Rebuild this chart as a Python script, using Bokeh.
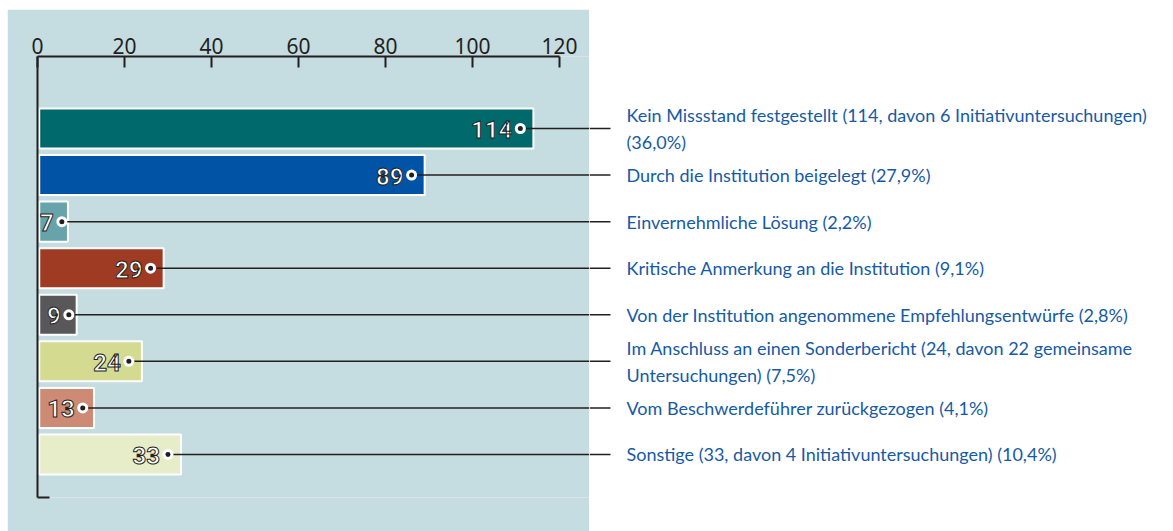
from bokeh.plotting import figure
from bokeh.models import Range1d, LinearAxis, FixedTicker, ColumnDataSource, Spacer
from bokeh.layouts import row, column
from bokeh.core.properties import value
from bokeh.embed import file_html
from bokeh.resources import INLINE

categories = [
    "Kein Missstand festgestellt (114, davon 6 Initiativuntersuchungen)\n(36,0%)",
    "Durch die Institution beigelegt (27,9%)",
    "Einvernehmliche Lösung (2,2%)",
    "Kritische Anmerkung an die Institution (9,1%)",
    "Von der Institution angenommene Empfehlungsentwürfe (2,8%)",
    "Im Anschluss an einen Sonderbericht (24, davon 22 gemeinsame\nUntersuchungen) (7,5%)",
    "Vom Beschwerdeführer zurückgezogen (4,1%)",
    "Sonstige (33, davon 4 Initiativuntersuchungen) (10,4%)",
]
values = [114, 89, 7, 29, 9, 24, 13, 33]
colors = ["#00696b", "#0053a5", "#67a3aa", "#9f3b22", "#58585a", "#d4da8f", "#cd8a74", "#e7edc8"]
tick_values = [0, 20, 40, 60, 80, 100, 120]

PANEL = "#c5dce0"
DARK = "#231f20"
BLUE = "#165aa6"
XMAX = 126.9

n = len(values)
ypos = [n - 1 - i for i in range(n)]
cx = [v - min(3.0, 0.2 * v) for v in values]

src = ColumnDataSource(dict(
    y=ypos, v=values, c=colors, cx=cx,
    vt=[str(v) for v in values], cat=categories,
))

yr = Range1d(-0.924, 8.546)

pa = figure(width=582, height=522, x_range=Range1d(0, XMAX), y_range=yr,
            output_backend="svg", toolbar_location=None, x_axis_location="above",
            min_border_left=30, min_border_right=0, min_border_top=47, min_border_bottom=34,
            background_fill_color=PANEL, border_fill_color=PANEL, outline_line_color=None)
pa.grid.visible = False

xa = pa.xaxis[0]
xa.ticker = FixedTicker(ticks=tick_values)
xa.bounds = (0, 120)
xa.major_tick_in = 11
xa.major_tick_out = 0
xa.minor_tick_line_color = None
xa.axis_line_width = 2
xa.axis_line_color = DARK
xa.major_tick_line_width = 2
xa.major_tick_line_color = DARK
xa.major_label_text_font = "Noto Sans"
xa.major_label_text_font_size = "21px"
xa.major_label_text_color = DARK
xa.major_label_standoff = 3

ya = pa.yaxis[0]
ya.major_tick_in = 0
ya.major_tick_out = 0
ya.minor_tick_line_color = None
ya.major_label_text_font_size = "0px"
ya.major_label_text_color = None
ya.axis_line_width = 2
ya.axis_line_color = DARK

foot = LinearAxis(bounds=(0, 2.76), ticker=FixedTicker(ticks=[]), major_tick_in=0, major_tick_out=0,
                  minor_tick_line_color=None, major_label_text_font_size="0px",
                  axis_line_width=2, axis_line_color=DARK)
pa.add_layout(foot, "below")

pa.hbar(y="y", left=0.4, right="v", height=0.86, fill_color="c", line_color="white",
        line_width=2, source=src)
pa.segment(x0="cx", y0="y", x1=XMAX, y1="y", line_color=DARK, line_width=1.5, source=src)
pa.scatter(x="cx", y="y", size=11, fill_color="white", line_color=None, source=src)
pa.scatter(x="cx", y="y", size=5, fill_color=DARK, line_color=None, source=src)
pa.text(x="cx", y="y", text="vt", x_offset=-8, y_offset=1, text_align="right", text_baseline="middle",
        text_font=value("Roboto"), text_font_style="bold", text_font_size="24px",
        text_color="white", text_outline_color=DARK, source=src)

pb = figure(width=584, height=522, x_range=Range1d(0, 584), y_range=yr,
            output_backend="svg", toolbar_location=None, x_axis_type=None, y_axis_type=None,
            min_border_left=0, min_border_right=0, min_border_top=47, min_border_bottom=34,
            background_fill_color="white", border_fill_color="white", outline_line_color=None)
pb.grid.visible = False
pb.segment(x0=0, y0="y", x1=21, y1="y", line_color=DARK, line_width=1.5, source=src)
pb.text(x=37, y="y", text="cat", text_align="left", text_baseline="middle",
        text_font=value("Lato"), text_font_size="18px", text_line_height=1.25,
        text_color=BLUE, source=src)

layout = column(Spacer(height=9, width=1173),
                row(Spacer(width=7, height=522), pa, pb, spacing=0), spacing=0)
open("out.html", "w").write(file_html(layout, INLINE))
